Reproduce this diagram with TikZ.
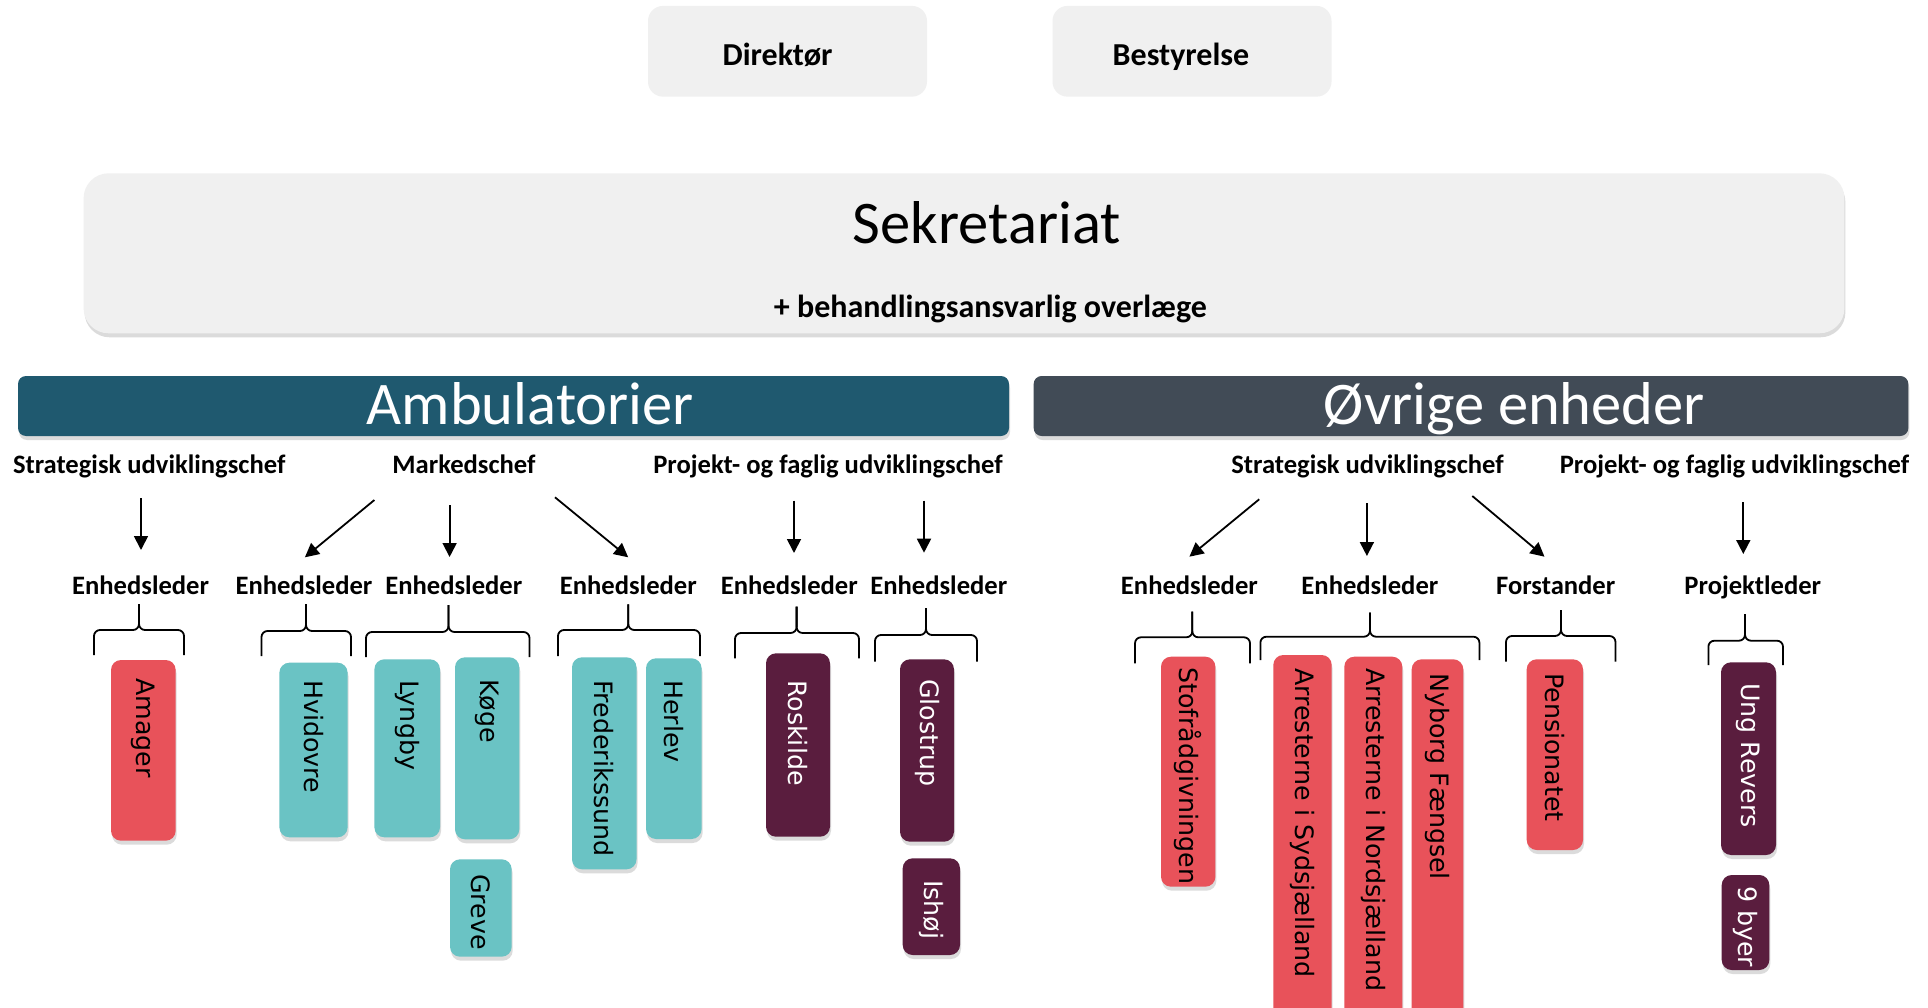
\documentclass[tikz,border=0pt]{standalone}
\usepackage{fontspec}
\setmainfont{Carlito}
\newfontfamily\boxfont{DejaVu Sans}
\usetikzlibrary{arrows.meta,shadows}
\definecolor{lightbox}{HTML}{F0F0F0}
\definecolor{ambu}{HTML}{1F596F}
\definecolor{ovr}{HTML}{414B56}
\definecolor{rd}{HTML}{E8525A}
\definecolor{tl}{HTML}{6AC3C4}
\definecolor{pu}{HTML}{5A1D3E}
\tikzset{
  softshadow/.style={drop shadow={shadow xshift=1pt, shadow yshift=-4pt, opacity=0.28}},
  topbox/.style={fill=lightbox, rounded corners=15pt, inner sep=0pt},
  toptext/.style={font=\bfseries\fontsize{32}{36}\selectfont, anchor=base, inner sep=0pt},
  lbl/.style={font=\bfseries\fontsize{26.6}{30}\selectfont, anchor=base, inner sep=0pt},
  bigtxt/.style={font=\fontsize{60.5}{66}\selectfont, anchor=base, inner sep=0pt},
  arr/.style={line width=1.8pt, -{Triangle[length=14pt,width=14pt]}},
  brc/.style={line width=1.8pt, rounded corners=6pt},
  unitbox/.style={rounded corners=10pt, draw=none, inner sep=0pt, softshadow},
  unittxt/.style={font=\boxfont\fontsize{25.3}{28}\selectfont, rotate=-90, anchor=west, inner sep=0pt},
}
% name, x1, y1, x2, y2, fill, text colour, text start y, text
\newcommand{\ubox}[9]{%
  \node[unitbox, fill=#6, minimum width={(#4-#2)*1pt}, minimum height={(#5-#3)*1pt}] (#1) at ({(#2+#4)/2},{(#3+#5)/2}) {};
  \node[unittxt, text=#7] (#1-t) at ({(#2+#4)/2},#8) {#9};}
% x1, x2, xm, ytop, yh, ybot
\newcommand{\brc}[6]{%
  \draw[brc] (#1,#6) -- (#1,#5) -- (#3,#5) -- (#3,#4);
  \draw[brc] (#2,#6) -- (#2,#5) -- (#3,#5) -- (#3,#4);}
\begin{document}
\begin{tikzpicture}[x=1pt,y=-1pt]
\clip (0,0) rectangle (1928,1008);
\fill[white] (0,0) rectangle (1928,1008);

% top boxes
\node[topbox, minimum width=279pt, minimum height=90.7pt] (dir) at (787.5,51.3) {};
\node[toptext] (dirt) at (777.6,65.8) {Direktør};
\node[topbox, minimum width=279pt, minimum height=90.7pt] (best) at (1192,51.3) {};
\node[toptext] (bestt) at (1181,65.8) {Bestyrelse};

% Sekretariat
\node[fill=lightbox, rounded corners=25pt, inner sep=0pt, minimum width=1760.8pt, minimum height=160pt, softshadow] (sek) at (964,253.3) {};
\node[bigtxt] (sekt) at (986.8,243.5) {Sekretariat};
\node[toptext] (sekt2) at (990.4,317.5) {+ behandlingsansvarlig overlæge};

% banners
\node[fill=ambu, rounded corners=8pt, inner sep=0pt, minimum width=991pt, minimum height=60pt, softshadow] (amb) at (513.5,406) {};
\node[bigtxt, text=white] (ambt) at (530.3,424) {Ambulatorier};
\node[fill=ovr, rounded corners=8pt, inner sep=0pt, minimum width=874.7pt, minimum height=60pt, softshadow] (ovr) at (1471,406) {};
\node[bigtxt, text=white] (ovrt) at (1514.3,424) {Øvrige enheder};

% chief labels
\node[lbl] (stratL) at (149.2,473.5) {Strategisk udviklingschef};
\node[lbl] (mark) at (464,473.5) {Markedschef};
\node[lbl] (projL) at (828,473.5) {Projekt- og faglig udviklingschef};
\node[lbl] (stratR) at (1367.5,473.5) {Strategisk udviklingschef};
\node[lbl] (projR) at (1734.5,473.5) {Projekt- og faglig udviklingschef};

% leader labels
\node[lbl] (e1) at (140.6,594.5) {Enhedsleder};
\node[lbl] (e2) at (304,594.5) {Enhedsleder};
\node[lbl] (e3) at (453.8,594.5) {Enhedsleder};
\node[lbl] (e4) at (628.3,594.5) {Enhedsleder};
\node[lbl] (e5) at (789.3,594.5) {Enhedsleder};
\node[lbl] (e6) at (938.8,594.5) {Enhedsleder};
\node[lbl] (r1) at (1189.4,594.5) {Enhedsleder};
\node[lbl] (r2) at (1369.9,594.5) {Enhedsleder};
\node[lbl] (r3) at (1555.7,594.5) {Forstander};
\node[lbl] (r4) at (1752.8,594.5) {Projektleder};

% arrows
\coordinate (a1s) at (141,498);   \coordinate (a1e) at (141,550);
\coordinate (m1s) at (374.4,500); \coordinate (m1e) at (304.9,557.3);
\coordinate (m2s) at (449.6,505); \coordinate (m2e) at (449.6,557);
\coordinate (m3s) at (555,497.3); \coordinate (m3e) at (628.2,557.3);
\coordinate (p1s) at (794,500.7); \coordinate (p1e) at (794,553);
\coordinate (p2s) at (924,500.7); \coordinate (p2e) at (924,552.7);
\coordinate (s1s) at (1259.2,499.3); \coordinate (s1e) at (1189.4,556.7);
\coordinate (s2s) at (1366.9,503.3); \coordinate (s2e) at (1366.9,556);
\coordinate (s3s) at (1472.3,496);   \coordinate (s3e) at (1544.5,556.7);
\coordinate (q1s) at (1743.3,502);   \coordinate (q1e) at (1743.3,554);
\draw[arr] (a1s) -- (a1e);
\draw[arr] (m1s) -- (m1e);
\draw[arr] (m2s) -- (m2e);
\draw[arr] (m3s) -- (m3e);
\draw[arr] (p1s) -- (p1e);
\draw[arr] (p2s) -- (p2e);
\draw[arr] (s1s) -- (s1e);
\draw[arr] (s2s) -- (s2e);
\draw[arr] (s3s) -- (s3e);
\draw[arr] (q1s) -- (q1e);

% braces
\brc{94}{184}{139}{604}{630}{655}
\brc{261.5}{351}{306}{604}{631}{656}
\brc{366}{529.5}{448.5}{605}{632}{657}
\brc{558}{700}{628.3}{604.3}{630}{656}
\brc{735}{859}{796.6}{606.7}{633}{658.3}
\brc{875}{977}{926}{608}{635}{661.7}
\brc{1135}{1250}{1192.3}{611.7}{637.3}{663.3}
\brc{1260.4}{1479.4}{1370}{612.7}{636.7}{660}
\brc{1506}{1615.5}{1561}{610}{636}{661.7}
\brc{1708.4}{1783}{1745}{614}{640.7}{665}

% unit boxes
\ubox{amager}{111}{660}{175.7}{840.7}{rd}{black}{678}{Amager}
\ubox{hvidovre}{279.4}{662.7}{347.6}{837.3}{tl}{black}{680}{Hvidovre}
\ubox{lyngby}{374.4}{659.3}{440}{837.3}{tl}{black}{680}{Lyngby}
\ubox{koege}{455}{657.3}{519.3}{839.3}{tl}{black}{679}{Køge}
\ubox{greve}{450}{859.3}{511.7}{956.7}{tl}{black}{874}{Greve}
\ubox{fred}{572}{657.3}{636.5}{869.3}{tl}{black}{680}{Frederikssund}
\ubox{herlev}{646}{658.3}{701.6}{839}{tl}{black}{680}{Herlev}
\ubox{roskilde}{766}{653.3}{830}{836.7}{pu}{white}{680}{Roskilde}
\ubox{glostrup}{900}{659.3}{954}{841.7}{pu}{white}{679}{Glostrup}
\ubox{ishoej}{902.7}{858.3}{960}{955}{pu}{white}{880}{Ishøj}
\ubox{stof}{1161}{656.7}{1215.4}{886.7}{rd}{black}{667}{Stofrådgivningen}
\ubox{arrs}{1273.3}{655}{1331.7}{1030}{rd}{black}{668}{Arresterne i Sydsjælland}
\ubox{arrn}{1344.3}{656.7}{1402.3}{1030}{rd}{black}{668}{Arresterne i Nordsjælland}
\ubox{nyborg}{1411.7}{659.3}{1463.3}{1030}{rd}{black}{673}{Nyborg Fængsel}
\ubox{pension}{1526.7}{659.3}{1583}{850}{rd}{black}{673}{Pensionatet}
\ubox{ungrev}{1721}{662.3}{1776}{855}{pu}{white}{683}{Ung Revers}
\ubox{nibyer}{1721.7}{875}{1769.3}{970}{pu}{white}{886}{9 byer}
\end{tikzpicture}
\end{document}
